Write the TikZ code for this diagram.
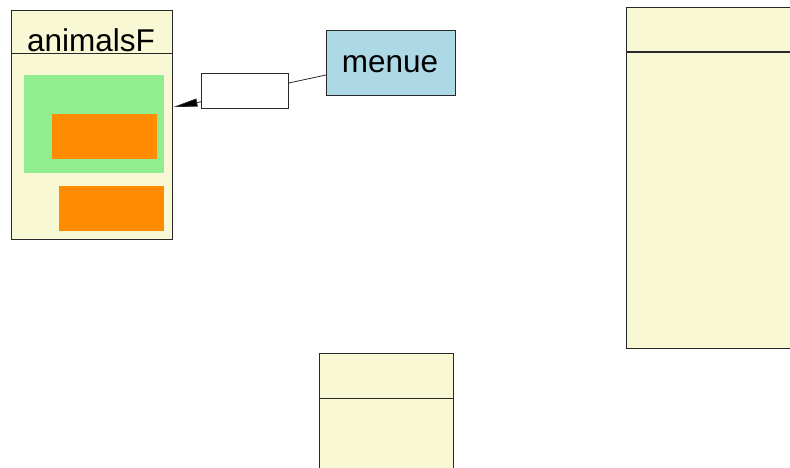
\documentclass[tikz,border=0pt]{standalone}
\usepackage{fontspec}
\setmainfont{Liberation Sans}
\usetikzlibrary{calc,arrows.meta}
\definecolor{umlyellow}{RGB}{248,248,212}
\definecolor{umlgreen}{RGB}{144,238,144}
\definecolor{umlorange}{RGB}{255,140,0}
\definecolor{umlblue}{RGB}{173,216,230}
\definecolor{umlborder}{RGB}{40,40,40}
\tikzset{
  classbox/.style={draw=umlborder, line width=1pt, fill=umlyellow, rectangle, inner sep=0pt, anchor=north west},
  greenbox/.style={fill=umlgreen, rectangle, inner sep=0pt, anchor=north west},
  orangebox/.style={fill=umlorange, rectangle, inner sep=0pt, anchor=north west},
  plainbox/.style={draw=umlborder, line width=0.8pt, fill=white, rectangle, inner sep=0pt, anchor=north west},
  bluebox/.style={draw=umlborder, line width=0.8pt, fill=umlblue, rectangle, inner sep=0pt, anchor=north west},
  bigtext/.style={font=\fontsize{31.5}{36}\selectfont},
  conn/.style={draw=umlborder, line width=0.8pt}
}
\begin{document}
\begin{tikzpicture}[x=1pt,y=-1pt]
\useasboundingbox (0,0) rectangle (790,468);
% animalsF
\node[classbox, minimum width=161pt, minimum height=229pt] (animalsF) at (11,10) {};
\draw[umlborder, line width=1pt] (11,54) -- (172,54);
\node[bigtext, anchor=base] (animalsFlabel) at (91,52) {animalsF};
\node[greenbox, minimum width=140pt, minimum height=98pt] (green) at (24,75) {};
\node[orangebox, minimum width=105pt, minimum height=45pt] (orange1) at (52,114) {};
\node[orangebox, minimum width=105pt, minimum height=45pt] (orange2) at (59,186) {};
% white box
\node[plainbox, minimum width=87pt, minimum height=35pt] (wbox) at (201,73) {};
% menue
\node[bluebox, minimum width=129pt, minimum height=65pt] (menue) at (326,30) {};
\node[bigtext, anchor=base] (menuelabel) at (390,72.5) {menue};
% right box
\node[classbox, line width=1.3pt, minimum width=180pt, minimum height=341pt] (rightbox) at (626,7) {};
\draw[umlborder, line width=1.3pt] (626,52) -- (806,52);
% bottom box
\node[classbox, minimum width=134pt, minimum height=140pt] (bottombox) at (319,353) {};
\draw[umlborder, line width=1pt] (319,398) -- (453,398);
% connectors
\coordinate (wstart) at ($(wbox.south west)+(0,-7)$);
\coordinate (aend) at ($(animalsF.north east)+(0.5,97)$);
\draw[conn, -{Triangle[length=24pt,width=8pt,fill=black]}] (wstart) -- (aend);
\coordinate (wright) at ($(wbox.north east)+(0,10)$);
\coordinate (mleft) at ($(menue.north west)+(0,45)$);
\draw[conn] (wright) -- (mleft);
\end{tikzpicture}
\end{document}
